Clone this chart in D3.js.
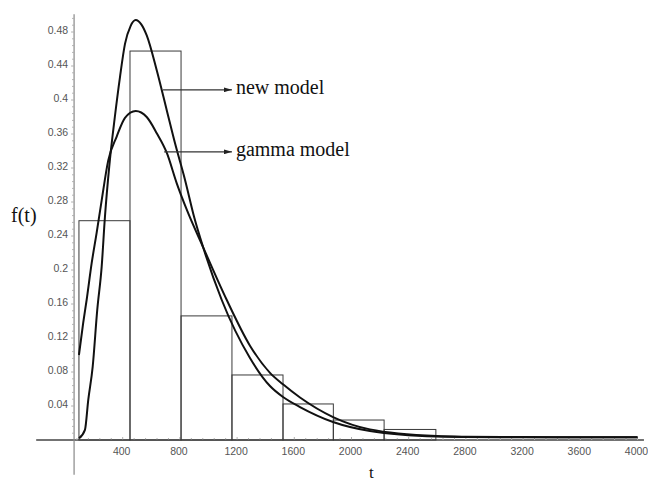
<!DOCTYPE html>
<html>
<head>
<meta charset="utf-8">
<script src="https://cdn.jsdelivr.net/npm/d3@7"></script>
<style>
	body { margin: 0; background: #fff; }
	svg { display: block; }
</style>
</head>
<body>
<svg id="chart"></svg>
<script>
// histogram bins (t) and heights
var binEdges = [94, 451, 808, 1164, 1521, 1873, 2228, 2590]
var binHeights = [0.258, 0.4576, 0.146, 0.0765, 0.0424, 0.0235, 0.0124]

// new model curve
var newT = [94, 136, 159, 190, 222, 253, 276, 306, 345, 381, 416, 455, 491, 530, 568, 638, 708, 766, 836, 900, 962, 1092, 1290, 1430, 1521, 1640, 1871, 2129, 2596, 2800, 3200, 3600, 4000]
var newF = [0.002, 0.012, 0.047, 0.086, 0.153, 0.204, 0.263, 0.322, 0.380, 0.427, 0.466, 0.487, 0.494, 0.489, 0.476, 0.435, 0.388, 0.349, 0.306, 0.262, 0.227, 0.165, 0.0965, 0.0635, 0.0506, 0.0388, 0.0212, 0.0106, 0.0041, 0.0036, 0.0033, 0.0032, 0.0032]

// gamma model curve
var gamT = [94, 124, 148, 183, 218, 253, 299, 358, 416, 491, 568, 638, 708, 778, 848, 962, 1127, 1290, 1430, 1521, 1640, 1871, 2129, 2596, 2800, 3200, 3600, 4000]
var gamF = [0.100, 0.138, 0.165, 0.208, 0.244, 0.282, 0.329, 0.357, 0.379, 0.387, 0.380, 0.361, 0.338, 0.302, 0.271, 0.227, 0.165, 0.111, 0.079, 0.0655, 0.050, 0.027, 0.0125, 0.0047, 0.0039, 0.0034, 0.0032, 0.0032]

var xTicks = [400, 800, 1200, 1600, 2000, 2400, 2800, 3200, 3600, 4000]
var yTicks = [0.04, 0.08, 0.12, 0.16, 0.2, 0.24, 0.28, 0.32, 0.36, 0.4, 0.44, 0.48]

var labels = [
	{ name: "new model", t0: 682, t1: 1164, f: 0.412 },
	{ name: "gamma model", t0: 690, t1: 1164, f: 0.339 }
]

var dimensions = {
	width: 648,
	height: 483
}

var svg = d3.select("#chart")
	.attr("width", dimensions.width)
	.attr("height", dimensions.height)

var xScale = d3.scaleLinear()
	.domain([0, 4000])
	.range([65.5, 637.5])

var yScale = d3.scaleLinear()
	.domain([0, 0.48])
	.range([440, 32])

var yAxisT = 60

// axes lines
svg.append("line")
	.attr("x1", xScale(-205)).attr("x2", xScale(4045))
	.attr("y1", yScale(0)).attr("y2", yScale(0))
	.style("stroke", "#444")
	.style("stroke-width", 1.5)

svg.append("line")
	.attr("x1", xScale(yAxisT)).attr("x2", xScale(yAxisT))
	.attr("y1", yScale(0.501)).attr("y2", yScale(-0.041))
	.style("stroke", "#888")
	.style("stroke-width", 1.2)

// minor ticks
var xMinor = d3.range(80, 4001, 80)
svg.append("g").selectAll("line")
	.data(xMinor)
	.enter()
	.append("line")
	.attr("x1", d => xScale(d)).attr("x2", d => xScale(d))
	.attr("y1", yScale(0)).attr("y2", d => yScale(0) - (d % 400 == 0 ? 3 : 2))
	.style("stroke", "#b0b0b0")

var yMinor = d3.range(1, 63).map(i => i * 0.008)
svg.append("g").selectAll("line")
	.data(yMinor)
	.enter()
	.append("line")
	.attr("x1", xScale(yAxisT)).attr("x2", (d, i) => xScale(yAxisT) - ((i + 1) % 5 == 0 ? 3 : 2))
	.attr("y1", d => yScale(d)).attr("y2", d => yScale(d))
	.style("stroke", "#b0b0b0")

// tick labels
svg.append("g").selectAll("text")
	.data(yTicks)
	.enter()
	.append("text")
	.attr("x", xScale(yAxisT) - 6)
	.attr("y", d => yScale(d))
	.attr("dy", "0.22em")
	.attr("text-anchor", "end")
	.style("font-family", "Liberation Sans, Arial, sans-serif")
	.style("font-size", "10.5px")
	.style("fill", "#555")
	.text(d => d3.format("~g")(d))

svg.append("g").selectAll("text")
	.data(xTicks)
	.enter()
	.append("text")
	.attr("x", d => xScale(d) - 1)
	.attr("y", yScale(0) + 15)
	.attr("text-anchor", "middle")
	.style("font-family", "Liberation Sans, Arial, sans-serif")
	.style("font-size", "10.5px")
	.style("fill", "#555")
	.text(d => d)

// histogram
var bins = binHeights.map((h, i) => ({ x0: binEdges[i], x1: binEdges[i + 1], h: h }))
svg.append("g").selectAll("rect")
	.data(bins)
	.enter()
	.append("rect")
	.attr("x", d => xScale(d.x0))
	.attr("y", d => yScale(d.h))
	.attr("width", d => xScale(d.x1) - xScale(d.x0))
	.attr("height", d => yScale(0) - yScale(d.h))
	.style("fill", "none")
	.style("stroke", "#3a3a3a")
	.style("stroke-width", 1)

// curves
var line = d3.line()
	.x(d => xScale(d[0]))
	.y(d => yScale(d[1]))
	.curve(d3.curveMonotoneX)

svg.append("path")
	.datum(newT.map((t, i) => [t, newF[i]]))
	.attr("d", line)
	.style("fill", "none")
	.style("stroke", "#111")
	.style("stroke-width", 2)

svg.append("path")
	.datum(gamT.map((t, i) => [t, gamF[i]]))
	.attr("d", line)
	.style("fill", "none")
	.style("stroke", "#111")
	.style("stroke-width", 2)

// annotations
svg.append("defs").append("marker")
	.attr("id", "arrow")
	.attr("viewBox", "0 0 10 6")
	.attr("refX", 10).attr("refY", 3)
	.attr("markerWidth", 8).attr("markerHeight", 5)
	.attr("markerUnits", "userSpaceOnUse")
	.attr("orient", "auto")
	.append("path")
	.attr("d", "M0,0L10,3L0,6Z")
	.style("fill", "#222")

var notes = svg.append("g")
notes.selectAll("line")
	.data(labels)
	.enter()
	.append("line")
	.attr("x1", d => xScale(d.t0)).attr("x2", d => xScale(d.t1))
	.attr("y1", d => yScale(d.f)).attr("y2", d => yScale(d.f))
	.style("stroke", "#333")
	.style("stroke-width", 1.2)
	.attr("marker-end", "url(#arrow)")

notes.selectAll("text")
	.data(labels)
	.enter()
	.append("text")
	.attr("x", d => xScale(d.t1) + 4)
	.attr("y", d => yScale(d.f) + 4)
	.style("font-family", "Liberation Serif, Times New Roman, serif")
	.style("font-size", "20px")
	.style("fill", "#111")
	.text(d => d.name)

// axis titles
svg.append("text")
	.attr("x", 11)
	.attr("y", 222)
	.style("font-family", "Liberation Serif, Times New Roman, serif")
	.style("font-size", "20px")
	.style("fill", "#111")
	.text("f(t)")

svg.append("text")
	.attr("x", 369)
	.attr("y", 478)
	.style("font-family", "Liberation Serif, Times New Roman, serif")
	.style("font-size", "17px")
	.style("fill", "#111")
	.text("t")
</script>
</body>
</html>
